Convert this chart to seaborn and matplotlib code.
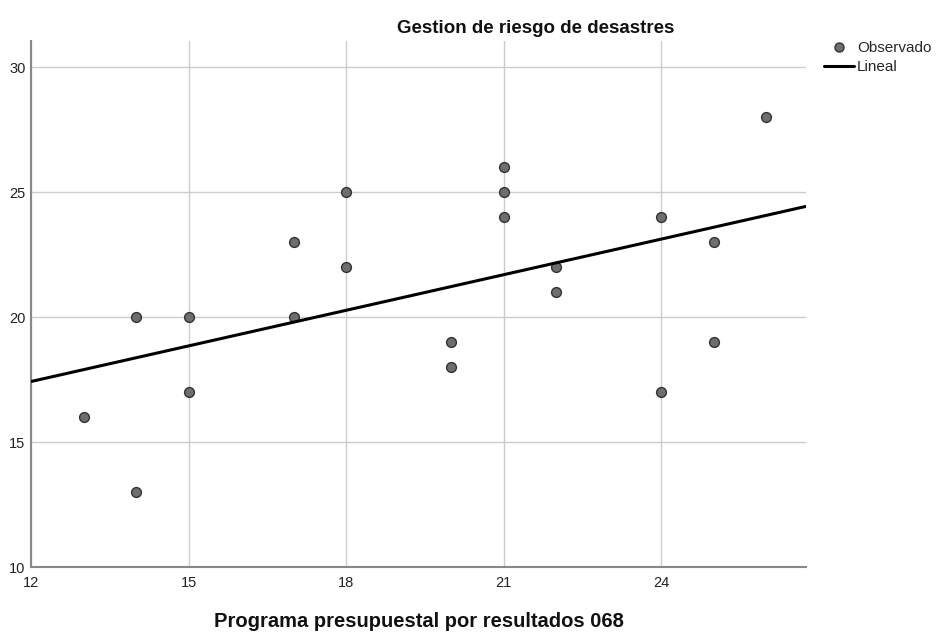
import pandas as pd
import seaborn as sns
import matplotlib.pyplot as plt
from matplotlib.lines import Line2D

# puntajes observados
programa = [13, 14, 14, 15, 15, 17, 17, 18, 18, 20, 20,
            21, 21, 21, 22, 22, 24, 24, 25, 25, 26]
gestion = [16, 20, 13, 20, 17, 23, 20, 25, 22, 19, 18,
           26, 25, 24, 22, 21, 24, 17, 23, 19, 28]
x_ticks = [12, 15, 18, 21, 24]
y_ticks = [10, 15, 20, 25, 30]

data = pd.DataFrame({'programa': programa, 'gestion': gestion})

sns.set_style('white')
plt.rcParams['font.family'] = ['Liberation Sans', 'DejaVu Sans']

fig = plt.figure(figsize=(9.39, 6.33), dpi=100)
ax = fig.add_axes([0.033, 0.104, 0.825, 0.831])

ax.set_xlim(12, 26.75)
ax.set_ylim(10, 31.05)

sns.regplot(x='programa', y='gestion', data=data, ci=None, truncate=False, ax=ax,
            scatter_kws={'s': 50, 'color': '#6e6e6e', 'edgecolor': '#333333',
                         'linewidths': 1, 'alpha': 1, 'zorder': 3},
            line_kws={'color': 'black', 'linewidth': 2.2, 'zorder': 4})

ax.set_xlim(12, 26.75)
ax.set_ylim(10, 31.05)
ax.set_xticks(x_ticks)
ax.set_yticks(y_ticks)
ax.grid(True, color='#cccccc', linewidth=1)
ax.set_axisbelow(True)
ax.tick_params(length=0, labelsize=10.5, colors='#222222')
ax.tick_params(axis='x', pad=6)
ax.tick_params(axis='y', pad=4)

sns.despine(ax=ax)
for s in ['left', 'bottom']:
    ax.spines[s].set_color('#888888')
    ax.spines[s].set_linewidth(1.5)

ax.set_xlabel('')
ax.set_ylabel('')
fig.text(0.446, 0.003, 'Programa presupuestal por resultados 068', ha='center', va='bottom',
         fontsize=14.5, fontweight='bold', color='#111111')
fig.text(0.57, 0.955, 'Gestion de riesgo de desastres', ha='center', va='center',
         fontsize=13.5, fontweight='bold', color='#111111')

handles = [Line2D([], [], marker='o', linestyle='none', markersize=6.5,
                  markerfacecolor='#6e6e6e', markeredgecolor='#333333'),
           Line2D([], [], color='black', linewidth=2.2)]
fig.legend(handles, ['Observado', 'Lineal'], loc='upper left',
           bbox_to_anchor=(0.877, 0.935), frameon=False, fontsize=11,
           handlelength=2.0, handletextpad=0.2, labelspacing=0.35,
           borderaxespad=0, borderpad=0)

fig.savefig('out.png', dpi=100)
